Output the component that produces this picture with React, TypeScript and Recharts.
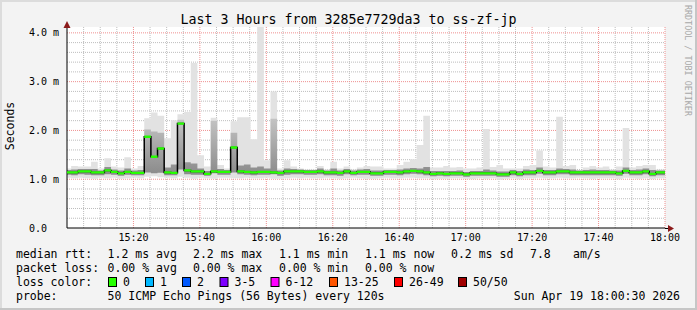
import React from "react";
import { ComposedChart, Area, Line, XAxis, YAxis, CartesianGrid } from "recharts";

const MONO = "'DejaVu Sans Mono', 'Liberation Mono', monospace";

// step starts in minutes after 15:00, first step is partial
const STEP_START = [0, ...Array.from({ length: 89 }, (_, i) => 1.25 + 2 * i)];

// median rtt per step (ms)
const MEDIAN = [
  1.14, 1.14, 1.16, 1.16, 1.14, 1.14, 1.18, 1.15, 1.12, 1.15, 1.13, 1.13,
  1.87, 1.46, 1.63, 1.14, 1.13, 2.14, 1.18, 1.16, 1.16, 1.11, 1.16, 1.15,
  1.15, 1.65, 1.16, 1.15, 1.14, 1.15, 1.15, 1.14, 1.13, 1.16, 1.16, 1.16,
  1.15, 1.15, 1.16, 1.14, 1.14, 1.13, 1.16, 1.13, 1.15, 1.15, 1.12, 1.12,
  1.15, 1.15, 1.14, 1.16, 1.17, 1.16, 1.14, 1.11, 1.12, 1.11, 1.12, 1.12,
  1.10, 1.12, 1.12, 1.12, 1.12, 1.10, 1.10, 1.14, 1.11, 1.14, 1.14, 1.17,
  1.14, 1.14, 1.16, 1.16, 1.14, 1.14, 1.14, 1.14, 1.14, 1.14, 1.14, 1.12,
  1.17, 1.14, 1.14, 1.16, 1.11, 1.14,
];

// smoke: slowest ping per step
const HI = [
  1.22, 1.27, 1.26, 1.26, 1.36, 1.22, 1.43, 1.26, 1.24, 1.45, 1.22, 1.27,
  2.25, 2.37, 2.30, 1.84, 2.21, 2.33, 2.38, 3.38, 1.49, 1.26, 2.26, 1.29,
  1.22, 2.19, 2.27, 2.27, 1.82, 4.12, 1.39, 2.80, 1.22, 1.39, 1.26, 1.22,
  1.20, 1.20, 1.27, 1.20, 1.36, 1.22, 1.26, 1.20, 1.24, 1.27, 1.26, 1.26,
  1.22, 1.22, 1.29, 1.36, 1.41, 1.70, 2.30, 1.24, 1.24, 1.27, 1.24, 1.25,
  1.22, 1.22, 1.24, 2.03, 1.25, 1.29, 1.22, 1.22, 1.22, 1.27, 1.29, 1.59,
  1.26, 1.24, 2.28, 1.27, 1.29, 1.19, 1.24, 1.27, 1.24, 1.26, 1.20, 1.26,
  2.05, 1.24, 1.27, 1.29, 1.29, 1.20,
];

// smoke: fastest ping per step
const LO = [
  1.03, 1.02, 1.03, 1.02, 1.01, 1.03, 1.02, 1.03, 1.01, 1.02, 1.03, 1.02,
  1.05, 1.06, 1.04, 1.03, 1.02, 1.05, 1.03, 1.01, 1.03, 1.02, 1.01, 1.03,
  1.03, 1.02, 1.02, 1.03, 1.02, 1.02, 1.03, 1.01, 1.01, 1.02, 1.03, 1.02,
  1.03, 1.02, 1.02, 1.03, 1.02, 1.01, 1.02, 1.03, 1.02, 1.01, 1.01, 1.02,
  1.03, 1.02, 1.02, 1.03, 1.03, 1.02, 1.02, 1.00, 1.01, 1.01, 1.02, 1.02,
  1.01, 1.00, 1.02, 1.01, 1.02, 0.99, 1.01, 1.02, 1.00, 1.02, 1.02, 1.03,
  1.02, 1.02, 1.03, 1.02, 1.02, 1.03, 1.02, 1.01, 1.02, 1.02, 1.02, 1.00,
  1.03, 1.02, 1.01, 1.02, 1.00, 1.02,
];

// smoke: dense middle of the pings
const Q1 = [
  1.09, 1.08, 1.10, 1.09, 1.08, 1.08, 1.10, 1.09, 1.07, 1.09, 1.08, 1.08,
  1.14, 1.12, 1.13, 1.08, 1.08, 1.20, 1.10, 1.09, 1.09, 1.07, 1.12, 1.09,
  1.09, 1.14, 1.10, 1.09, 1.08, 1.09, 1.09, 1.10, 1.07, 1.09, 1.10, 1.10,
  1.09, 1.09, 1.10, 1.08, 1.08, 1.07, 1.10, 1.08, 1.09, 1.09, 1.07, 1.07,
  1.09, 1.09, 1.08, 1.10, 1.11, 1.10, 1.08, 1.06, 1.07, 1.06, 1.07, 1.07,
  1.05, 1.07, 1.07, 1.07, 1.07, 1.05, 1.05, 1.08, 1.06, 1.08, 1.08, 1.11,
  1.08, 1.08, 1.10, 1.10, 1.08, 1.08, 1.08, 1.08, 1.08, 1.08, 1.08, 1.07,
  1.11, 1.08, 1.08, 1.10, 1.06, 1.08,
];
const Q3 = [
  1.19, 1.20, 1.21, 1.21, 1.21, 1.18, 1.25, 1.20, 1.18, 1.22, 1.18, 1.19,
  2.02, 1.98, 1.95, 1.24, 1.30, 2.22, 1.35, 1.32, 1.22, 1.17, 2.20, 1.21,
  1.19, 1.95, 1.28, 1.30, 1.24, 1.26, 1.22, 2.24, 1.18, 1.22, 1.21, 1.20,
  1.19, 1.19, 1.22, 1.18, 1.22, 1.18, 1.21, 1.18, 1.20, 1.21, 1.18, 1.18,
  1.19, 1.19, 1.20, 1.22, 1.23, 1.22, 1.25, 1.17, 1.17, 1.17, 1.17, 1.18,
  1.15, 1.17, 1.17, 1.20, 1.18, 1.16, 1.16, 1.19, 1.17, 1.20, 1.19, 1.24,
  1.19, 1.19, 1.22, 1.21, 1.20, 1.18, 1.19, 1.20, 1.19, 1.19, 1.18, 1.18,
  1.24, 1.19, 1.20, 1.22, 1.19, 1.18,
];

const X_TICKS = [20, 40, 60, 80, 100, 120, 140, 160, 180];
const X_TICK_LABELS = ["15:20", "15:40", "16:00", "16:20", "16:40", "17:00", "17:20", "17:40", "18:00"];
const Y_TICKS = [0, 1, 2, 3, 4];
const Y_TICK_LABELS = ["0.0  ", "1.0 m", "2.0 m", "3.0 m", "4.0 m"];

const MINOR_X = Array.from({ length: 36 }, (_, i) => i * 5).filter(v => v > 0 && v % 20 !== 0);
const MAJOR_X = X_TICKS;
const MINOR_Y = Array.from({ length: 21 }, (_, i) => +(i * 0.2).toFixed(1)).filter(v => v > 0 && v % 1 !== 0);
const MAJOR_Y = [1, 2, 3, 4];

const STATS_RTT: [number, string][] = [
  [16, "median rtt:"], [107.6, "1.2 ms avg"], [193, "2.2 ms max"], [279, "1.1 ms min"],
  [365, "1.1 ms now"], [451, "0.2 ms sd"], [530, "7.8"], [573, "am/s"],
];
const STATS_LOSS: [number, string][] = [
  [16, "packet loss:"], [107.6, "0.00 % avg"], [193, "0.00 % max"], [279, "0.00 % min"], [365, "0.00 % now"],
];
const LOSS_LABELS = ["0", "1", "2", "3-5", "6-12", "13-25", "26-49", "50/50"];
const LOSS_COLORS = ["#26ff00", "#00b8ff", "#0059ff", "#7e00ff", "#ff00ff", "#ff5500", "#ff0000", "#a10000"];
const LOSS_X = [108, 145, 182, 219.5, 270.5, 329, 394, 458];

const MED_HALF = 0.024;

const rows = STEP_START.map((t, i) => ({ t, med: MEDIAN[i], lo: LO[i], hi: HI[i], q1: Q1[i], q3: Q3[i] }));
rows.push({ ...rows[rows.length - 1], t: 180 });

const YTick = ({ x, y, payload }: any) => (
  <text x={x} y={y} dy="0.355em" textAnchor="end" fontFamily={MONO} fontSize={10} fill="#000"
    xmlSpace="preserve" style={{ whiteSpace: "pre" }}>
    {Y_TICK_LABELS[Y_TICKS.indexOf(payload.value)]}
  </text>
);

export default function App() {
  const txt = { fontFamily: MONO, fontSize: 11.5, fill: "#000" };
  return (
    <div style={{ position: "absolute", left: 0, top: 0, width: 697, height: 310, background: "#f3f3f3" }}>
      <ComposedChart width={697} height={310} data={rows} margin={{ top: 27, right: 32, bottom: 52, left: 0 }}>
        <defs>
          {/* smoke gets lighter the further it is from the usual rtt */}
          <linearGradient id="smoke" gradientUnits="userSpaceOnUse" x1={0} y1={175} x2={0} y2={118}>
            <stop offset="0" stopColor="#8a8a8a" />
            <stop offset="1" stopColor="#c4c4c4" />
          </linearGradient>
        </defs>
        <CartesianGrid fill="#ffffff" stroke="#bdbdbd" strokeDasharray="1 1"
          horizontalValues={MINOR_Y} verticalValues={MINOR_X} />
        <CartesianGrid stroke="#ef9090" strokeDasharray="1 1"
          horizontalValues={MAJOR_Y} verticalValues={MAJOR_X} />
        <XAxis type="number" dataKey="t" domain={[0, 180]} ticks={X_TICKS} interval={0} allowDataOverflow
          tickFormatter={v => X_TICK_LABELS[X_TICKS.indexOf(v)]} height={30}
          tickLine={false} tickSize={0} tickMargin={6} axisLine={{ stroke: "#000" }}
          tick={{ fontFamily: MONO, fontSize: 10, fill: "#000" }} />
        <YAxis type="number" domain={[0, 4.12]} ticks={Y_TICKS} interval={0} allowDataOverflow width={67}
          tickLine={false} tickSize={0} tickMargin={8} axisLine={{ stroke: "#000" }} tick={<YTick />} />
        <Area dataKey={(d: any) => [d.lo, d.hi]} type="stepAfter" stroke="none" fill="#e2e2e2" fillOpacity={1}
          isAnimationActive={false} dot={false} activeDot={false} />
        <Area dataKey={(d: any) => [d.q1, d.q3]} type="stepAfter" stroke="none" fill="url(#smoke)" fillOpacity={1}
          isAnimationActive={false} dot={false} activeDot={false} />
        <Line dataKey="med" type="stepAfter" stroke="#000" strokeWidth={1.5} dot={false} activeDot={false}
          isAnimationActive={false} />
        <Area dataKey={(d: any) => [d.med - MED_HALF, d.med + MED_HALF]} type="stepAfter" stroke="none"
          fill="#26ff00" fillOpacity={1} isAnimationActive={false} dot={false} activeDot={false} zIndex={500} />
      </ComposedChart>

      <svg width={697} height={310} style={{ position: "absolute", left: 0, top: 0, pointerEvents: "none" }}>
        <line x1={0} y1={1} x2={697} y2={1} stroke="#dcdcdc" strokeWidth={2} />
        <line x1={1} y1={0} x2={1} y2={310} stroke="#dcdcdc" strokeWidth={2} />
        <line x1={0} y1={309} x2={697} y2={309} stroke="#c6c6c6" strokeWidth={2} />
        <line x1={696} y1={0} x2={696} y2={310} stroke="#c6c6c6" strokeWidth={2} />

        <text x={348.5} y={24} textAnchor="middle" fontFamily={MONO} fontSize={13.3} fill="#000">
          Last 3 Hours from 3285e7729da3 to ss-zf-jp
        </text>
        <text transform="translate(14,126) rotate(-90)" textAnchor="middle" {...txt}>Seconds</text>
        <text transform="translate(685,5) rotate(90)" fontFamily={MONO} fontSize={8.4} fill="#a8a8a8">
          RRDTOOL / TOBI OETIKER
        </text>

        <line x1={665} y1={228.5} x2={669} y2={228.5} stroke="#000" />
        <polygon points="668,225 668,232 674,228.5" fill="#8b1a1a" />
        <polygon points="63.5,28 70.5,28 67,21" fill="#8b1a1a" />

        {STATS_RTT.map(([x, s]) => <text key={"r" + x} x={x} y={258} {...txt}>{s}</text>)}
        {STATS_LOSS.map(([x, s]) => <text key={"l" + x} x={x} y={272} {...txt}>{s}</text>)}
        <text x={16} y={286} {...txt}>loss color:</text>
        {LOSS_LABELS.map((s, i) => (
          <g key={s}>
            <rect x={LOSS_X[i] + 0.5} y={277.5} width={8} height={9} fill={LOSS_COLORS[i]} stroke="#000" />
            <text x={LOSS_X[i] + 15} y={286} {...txt}>{s}</text>
          </g>
        ))}
        <text x={16} y={300} {...txt}>probe:</text>
        <text x={107.6} y={300} {...txt}>50 ICMP Echo Pings (56 Bytes) every 120s</text>
        <text x={680} y={300} textAnchor="end" {...txt}>Sun Apr 19 18:00:30 2026</text>
      </svg>
    </div>
  );
}
